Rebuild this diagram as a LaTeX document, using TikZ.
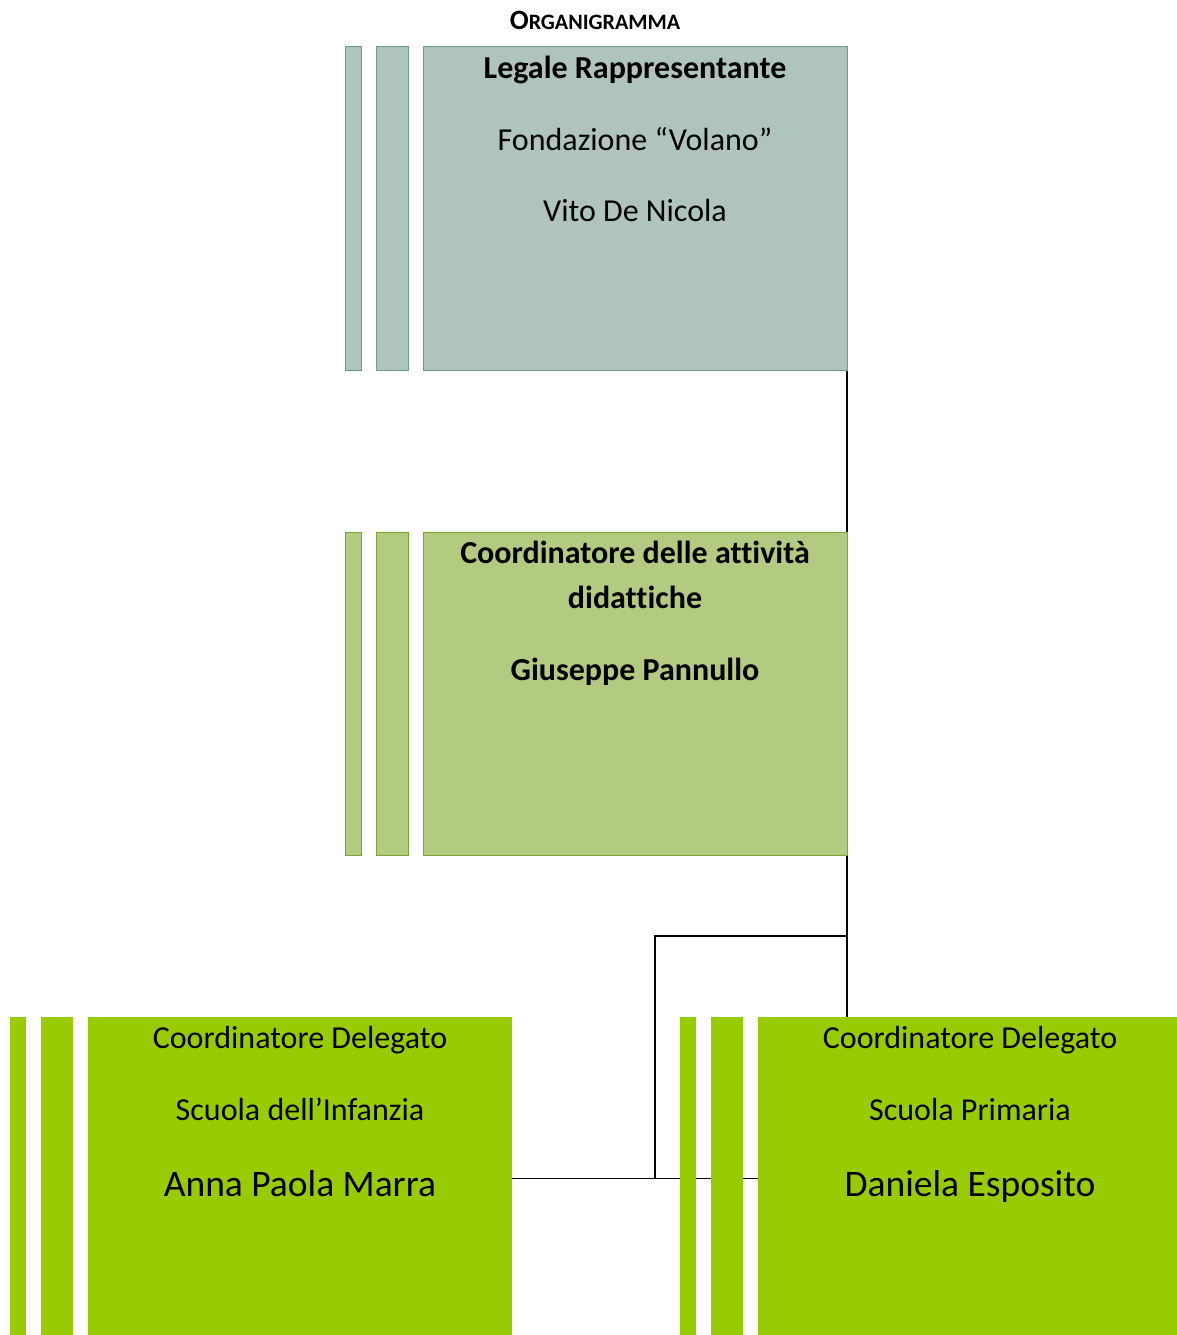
\documentclass[tikz,border=0pt]{standalone}
\usepackage{fontspec}
\setmainfont{Carlito}[Ligatures=NoCommon]
\definecolor{legfill}{HTML}{AEC4BC}
\definecolor{legdraw}{HTML}{6F9A8A}
\definecolor{cdfill}{HTML}{B3CB80}
\definecolor{cddraw}{HTML}{7AA530}
\definecolor{delfill}{HTML}{99CC00}
\usetikzlibrary{positioning, backgrounds}
\tikzset{
	mainbox/.style={rectangle, minimum width=424pt, minimum height=323pt,
		inner sep=0pt, outer sep=0pt, line width=1pt},
	thinbar/.style={mainbox, minimum width=16pt},
	widebar/.style={mainbox, minimum width=32pt},
	legcol/.style={fill=legfill, draw=legdraw},
	cdcol/.style={fill=cdfill, draw=cddraw},
	delcol/.style={fill=delfill},
	boxtext/.style={align=center, inner sep=0pt, text=black},
	conn/.style={draw=black, line width=1.3pt}
}
\begin{document}
\begin{tikzpicture}[x=1pt, y=-1pt, node distance=15pt]
	\useasboundingbox (0,0) rectangle (1176,1335);
	\node[font=\bfseries] (title) at (595,20)
		{{\fontsize{28}{28}\selectfont O}{\fontsize{22}{22}\selectfont RGANIGRAMMA}};
	% legale rappresentante
	\node[mainbox, legcol, anchor=north west] (legale) at (423,47) {};
	\node[widebar, legcol, left=of legale] (legbar2) {};
	\node[thinbar, legcol, left=of legbar2] (legbar1) {};
	\node[boxtext, below=9pt of legale.north, font=\fontsize{32}{71.5}\selectfont] (legtxt)
		{\textbf{Legale Rappresentante}\\Fondazione “Volano”\\Vito De Nicola};
	% coordinatore didattico
	\node[mainbox, cdcol, anchor=north west] (coordd) at (423,532) {};
	\node[widebar, cdcol, left=of coordd] (cdbar2) {};
	\node[thinbar, cdcol, left=of cdbar2] (cdbar1) {};
	\node[boxtext, below=9pt of coordd.north, font=\bfseries\fontsize{32}{45}\selectfont] (cdtxt)
		{Coordinatore delle attività\\didattiche\\[27pt]Giuseppe Pannullo};
	% coordinatori delegati
	\node[mainbox, delcol, anchor=north west] (infanzia) at (88,1017) {};
	\node[widebar, delcol, left=of infanzia] (infbar2) {};
	\node[thinbar, delcol, left=of infbar2] (infbar1) {};
	\node[boxtext, below=9pt of infanzia.north, font=\fontsize{32}{72}\selectfont] (inftxt)
		{Coordinatore Delegato\\Scuola dell’Infanzia\\[4pt]{\fontsize{37.5}{40}\selectfont Anna Paola Marra}};
	\node[mainbox, delcol, anchor=north west] (primaria) at (758,1017) {};
	\node[widebar, delcol, left=of primaria] (pribar2) {};
	\node[thinbar, delcol, left=of pribar2] (pribar1) {};
	\node[boxtext, below=9pt of primaria.north, font=\fontsize{32}{72}\selectfont] (pritxt)
		{Coordinatore Delegato\\Scuola Primaria\\[4pt]{\fontsize{37.5}{40}\selectfont Daniela Esposito}};
	\coordinate (branch) at (coordd.south east |- 0,936);
	\coordinate (drop) at (655,936);
	\begin{scope}[on background layer]
		\draw[conn] (legale.south east) -- (coordd.north east);
		\draw[conn] (coordd.south east) -- (branch) -- (branch |- primaria.north);
		\draw[conn] (branch) -- (drop) |- (infanzia.east);
		\draw[conn] (infanzia.east) -- (primaria.west);
	\end{scope}
\end{tikzpicture}
\end{document}
